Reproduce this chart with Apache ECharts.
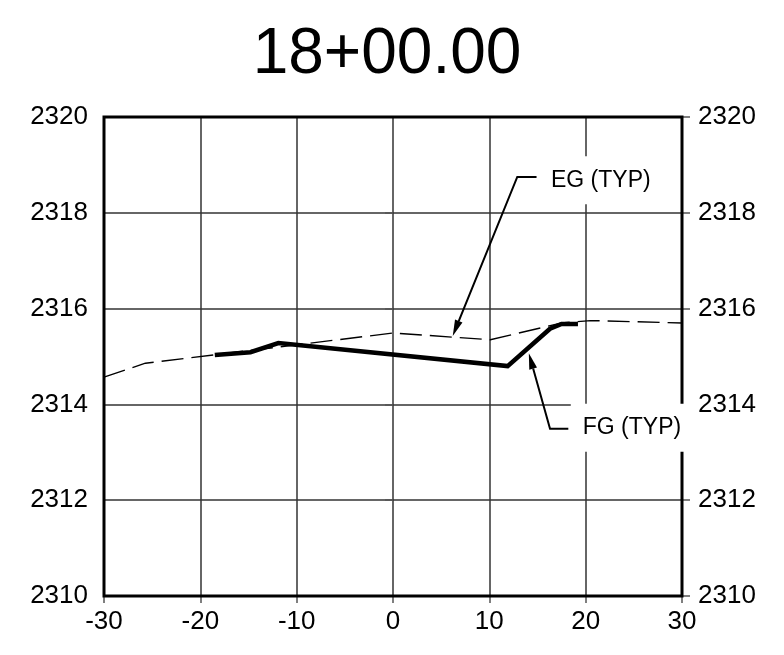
<!DOCTYPE html>
<html>
<head>
<meta charset="utf-8">
<script src="https://cdn.jsdelivr.net/npm/echarts@6/dist/echarts.min.js"></script>
<style>html,body{margin:0;padding:0;background:#fff}#c{width:784px;height:655px}</style>
</head>
<body>
<div id="c"></div>
<script>
const titleText = '18+00.00';
const xTicks = [-30, -20, -10, 0, 10, 20, 30];
const yTicks = [2310, 2312, 2314, 2316, 2318, 2320];
const egX = [-30, -25.7, 0, 10.1, 17.5, 20.5, 30];
const egY = [2314.57, 2314.86, 2315.49, 2315.35, 2315.70, 2315.75, 2315.70];
const fgX = [-18.5, -14.8, -11.9, 11.9, 16.3, 17.5, 19.2];
const fgY = [2315.03, 2315.09, 2315.28, 2314.80, 2315.58, 2315.68, 2315.68];
const egLabel = 'EG (TYP)';
const fgLabel = 'FG (TYP)';
// annotation anchor points (data coords): tip, elbow, shelf end, text start
const egTip = [6.2, 2315.43], egElbow = [12.9, 2318.75], egShelf = [14.9, 2318.75], egText = [16.4, 2318.68];
const fgTip = [14.1, 2315.07], fgElbow = [16.3, 2313.49], fgShelf = [18.2, 2313.49], fgText = [19.7, 2313.51];

const FONT = '"Liberation Sans", Arial, sans-serif';
const chart = echarts.init(document.getElementById('c'), null, {renderer: 'canvas'});
const yAxisBase = {
  type: 'value', min: 2310, max: 2320, interval: 2,
  axisLine: {show: false},
  axisTick: {show: true, length: 8, lineStyle: {color: '#555', width: 1.5}},
  axisLabel: {fontFamily: FONT, fontSize: 26, color: '#000', margin: 16, formatter: v => String(v)},
};
chart.setOption({
  animation: false,
  backgroundColor: '#fff',
  grid: {left: 104, right: 102, top: 117, bottom: 59, show: true, borderColor: '#000', borderWidth: 3, backgroundColor: 'transparent', z: 5},
  xAxis: {
    type: 'value', min: -30, max: 30, interval: 10,
    axisLine: {show: false},
    axisTick: {show: true, length: 7, lineStyle: {color: '#555', width: 1.5}},
    axisLabel: {fontFamily: FONT, fontSize: 26, color: '#000', margin: 13, formatter: v => String(v)},
    splitLine: {show: true, lineStyle: {color: '#333', width: 1.5}}
  },
  yAxis: [
    Object.assign({}, yAxisBase, {position: 'left', splitLine: {show: true, lineStyle: {color: '#333', width: 1.5}}}),
    Object.assign({}, yAxisBase, {position: 'right', splitLine: {show: false}})
  ],
  series: [
    {type: 'line', data: egX.map((x, i) => [x, egY[i]]), symbol: 'none', z: 3,
     lineStyle: {color: '#000', width: 1.4, type: [22, 8]}},
    {type: 'line', data: fgX.map((x, i) => [x, fgY[i]]), symbol: 'none', z: 4,
     lineStyle: {color: '#000', width: 4.5, join: 'miter'}}
  ]
});

function px(p) { return chart.convertToPixel({gridIndex: 0}, p); }
function arrow(tip, elbow, shelf, textPos, label) {
  const t = px(tip), e = px(elbow), s = px(shelf), tp = px(textPos);
  const dx = t[0] - e[0], dy = t[1] - e[1];
  const len = Math.sqrt(dx * dx + dy * dy);
  const ux = dx / len, uy = dy / len;
  const L = 16, W = 4;
  const bx = t[0] - ux * L, by = t[1] - uy * L;
  return [
    {type: 'rect', shape: {x: tp[0] - 12, y: tp[1] - 24, width: 120, height: 48}, style: {fill: '#fff'}, z: 10},
    {type: 'polyline', shape: {points: [s, e, [bx, by]]}, style: {stroke: '#000', lineWidth: 2, fill: null}, z: 11},
    {type: 'polygon', shape: {points: [t, [bx - uy * W, by + ux * W], [bx + uy * W, by - ux * W]]}, style: {fill: '#000'}, z: 11},
    {type: 'text', x: tp[0], y: tp[1], style: {text: label, font: '23px ' + FONT, fill: '#000', textAlign: 'left', textVerticalAlign: 'middle'}, z: 12}
  ];
}
chart.setOption({
  graphic: [
    {type: 'text', x: 387, y: 55, style: {text: titleText, font: '64px ' + FONT, fill: '#000', textAlign: 'center', textVerticalAlign: 'middle'}}
  ].concat(arrow(egTip, egElbow, egShelf, egText, egLabel), arrow(fgTip, fgElbow, fgShelf, fgText, fgLabel))
});
</script>
</body>
</html>
